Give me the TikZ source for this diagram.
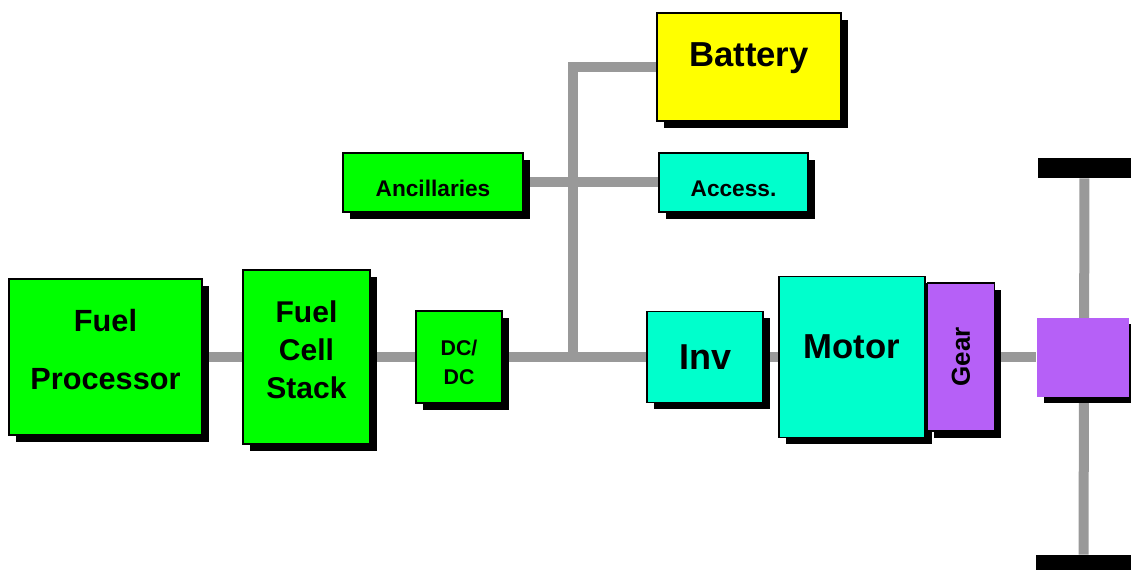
\documentclass[tikz,border=0pt]{standalone}
\usepackage{fontspec}
\setmainfont{Liberation Sans}
\usepackage{graphicx}
\usetikzlibrary{positioning, shadows, backgrounds}
\definecolor{cell}{HTML}{00FF00}
\definecolor{drive}{HTML}{00FFCC}
\definecolor{storage}{HTML}{FFFF00}
\definecolor{gearing}{HTML}{B660F7}
\definecolor{bus}{HTML}{999999}

\begin{document}
\begin{tikzpicture}[x=0.75pt, y=-0.75pt,
    block/.style={draw, line width=0.9pt, inner sep=0pt, align=center, font=\bfseries,
        drop shadow={shadow xshift=5pt, shadow yshift=-5pt, fill=black, opacity=1}},
    wire/.style={draw=bus, line width=7.5pt},
    wheel/.style={fill=black, inner sep=0pt},
]
\useasboundingbox (0,0) rectangle (1131,570);

% Fuel cell chain
\node[block, fill=cell, minimum width=144.75pt, minimum height=117pt, font=\bfseries\fontsize{23}{43.5}\selectfont] (fp) at (105.5,357) {Fuel\\Processor\rule[-11pt]{0pt}{0pt}};
\node[block, fill=cell, minimum width=95.25pt, minimum height=130.5pt, font=\bfseries\fontsize{22.5}{28.5}\selectfont] (fcs) at (306.5,357) {Fuel\\Cell\\Stack\rule[-10.5pt]{0pt}{0pt}};
\node[block, fill=cell, minimum width=64.5pt, minimum height=69pt, font=\bfseries\fontsize{16}{21.75}\selectfont] (dcdc) at (459,357) {\rule{0pt}{19pt}DC/\\DC};
\coordinate (bus) at (572.5,357);

% Drive side
\node[block, fill=drive, minimum width=87pt, minimum height=68.25pt, font=\bfseries\fontsize{27}{32}\selectfont] (inv) at (705,357) {Inv};
\node[block, fill=drive, minimum width=109.5pt, minimum height=120.75pt, text depth=15pt, font=\bfseries\fontsize{26}{31}\selectfont] (motor) at (852,357) {Motor};
\node[block, fill=gearing, minimum width=50.25pt, minimum height=111pt, right=1pt of motor, font=\bfseries\fontsize{19.5}{23}\selectfont] (gear) {\rotatebox{90}{Gear}};
\node[block, draw=none, fill=gearing, minimum width=69pt, minimum height=59.25pt] (hub) at (1083,357) {};
\node[wheel, minimum width=69.75pt, minimum height=15pt] (wtop) at (1084.5,168) {};
\node[wheel, minimum width=71.25pt, minimum height=15pt] (wbot) at (1083.5,565) {};

% Upper branch
\node[block, fill=storage, minimum width=138pt, minimum height=81pt, text height=19pt, text depth=20pt, font=\bfseries\fontsize{26}{31}\selectfont] (battery) at (749,67) {Battery};
\node[block, fill=cell, minimum width=135pt, minimum height=44.25pt, text height=21pt, text depth=0pt, font=\bfseries\fontsize{17}{20}\selectfont] (anc) at (433,182.5) {Ancillaries};
\node[block, fill=drive, minimum width=111.75pt, minimum height=44.25pt, text height=21pt, text depth=0pt, font=\bfseries\fontsize{17}{20}\selectfont] (acc) at (733.5,182.5) {Access.};

% Connections
\begin{scope}[on background layer]
\draw[wire] (fp) -- (fcs);
\draw[wire] (fcs) -- (dcdc);
\draw[wire] (dcdc) -- (inv);
\draw[wire] (inv) -- (motor);
\draw[wire] (gear) -- (hub);
\draw[wire] (bus) |- (battery);
\draw[wire] (anc) -- (acc);
\draw[wire] (wtop) -- (wbot);
\end{scope}

\end{tikzpicture}
\end{document}
